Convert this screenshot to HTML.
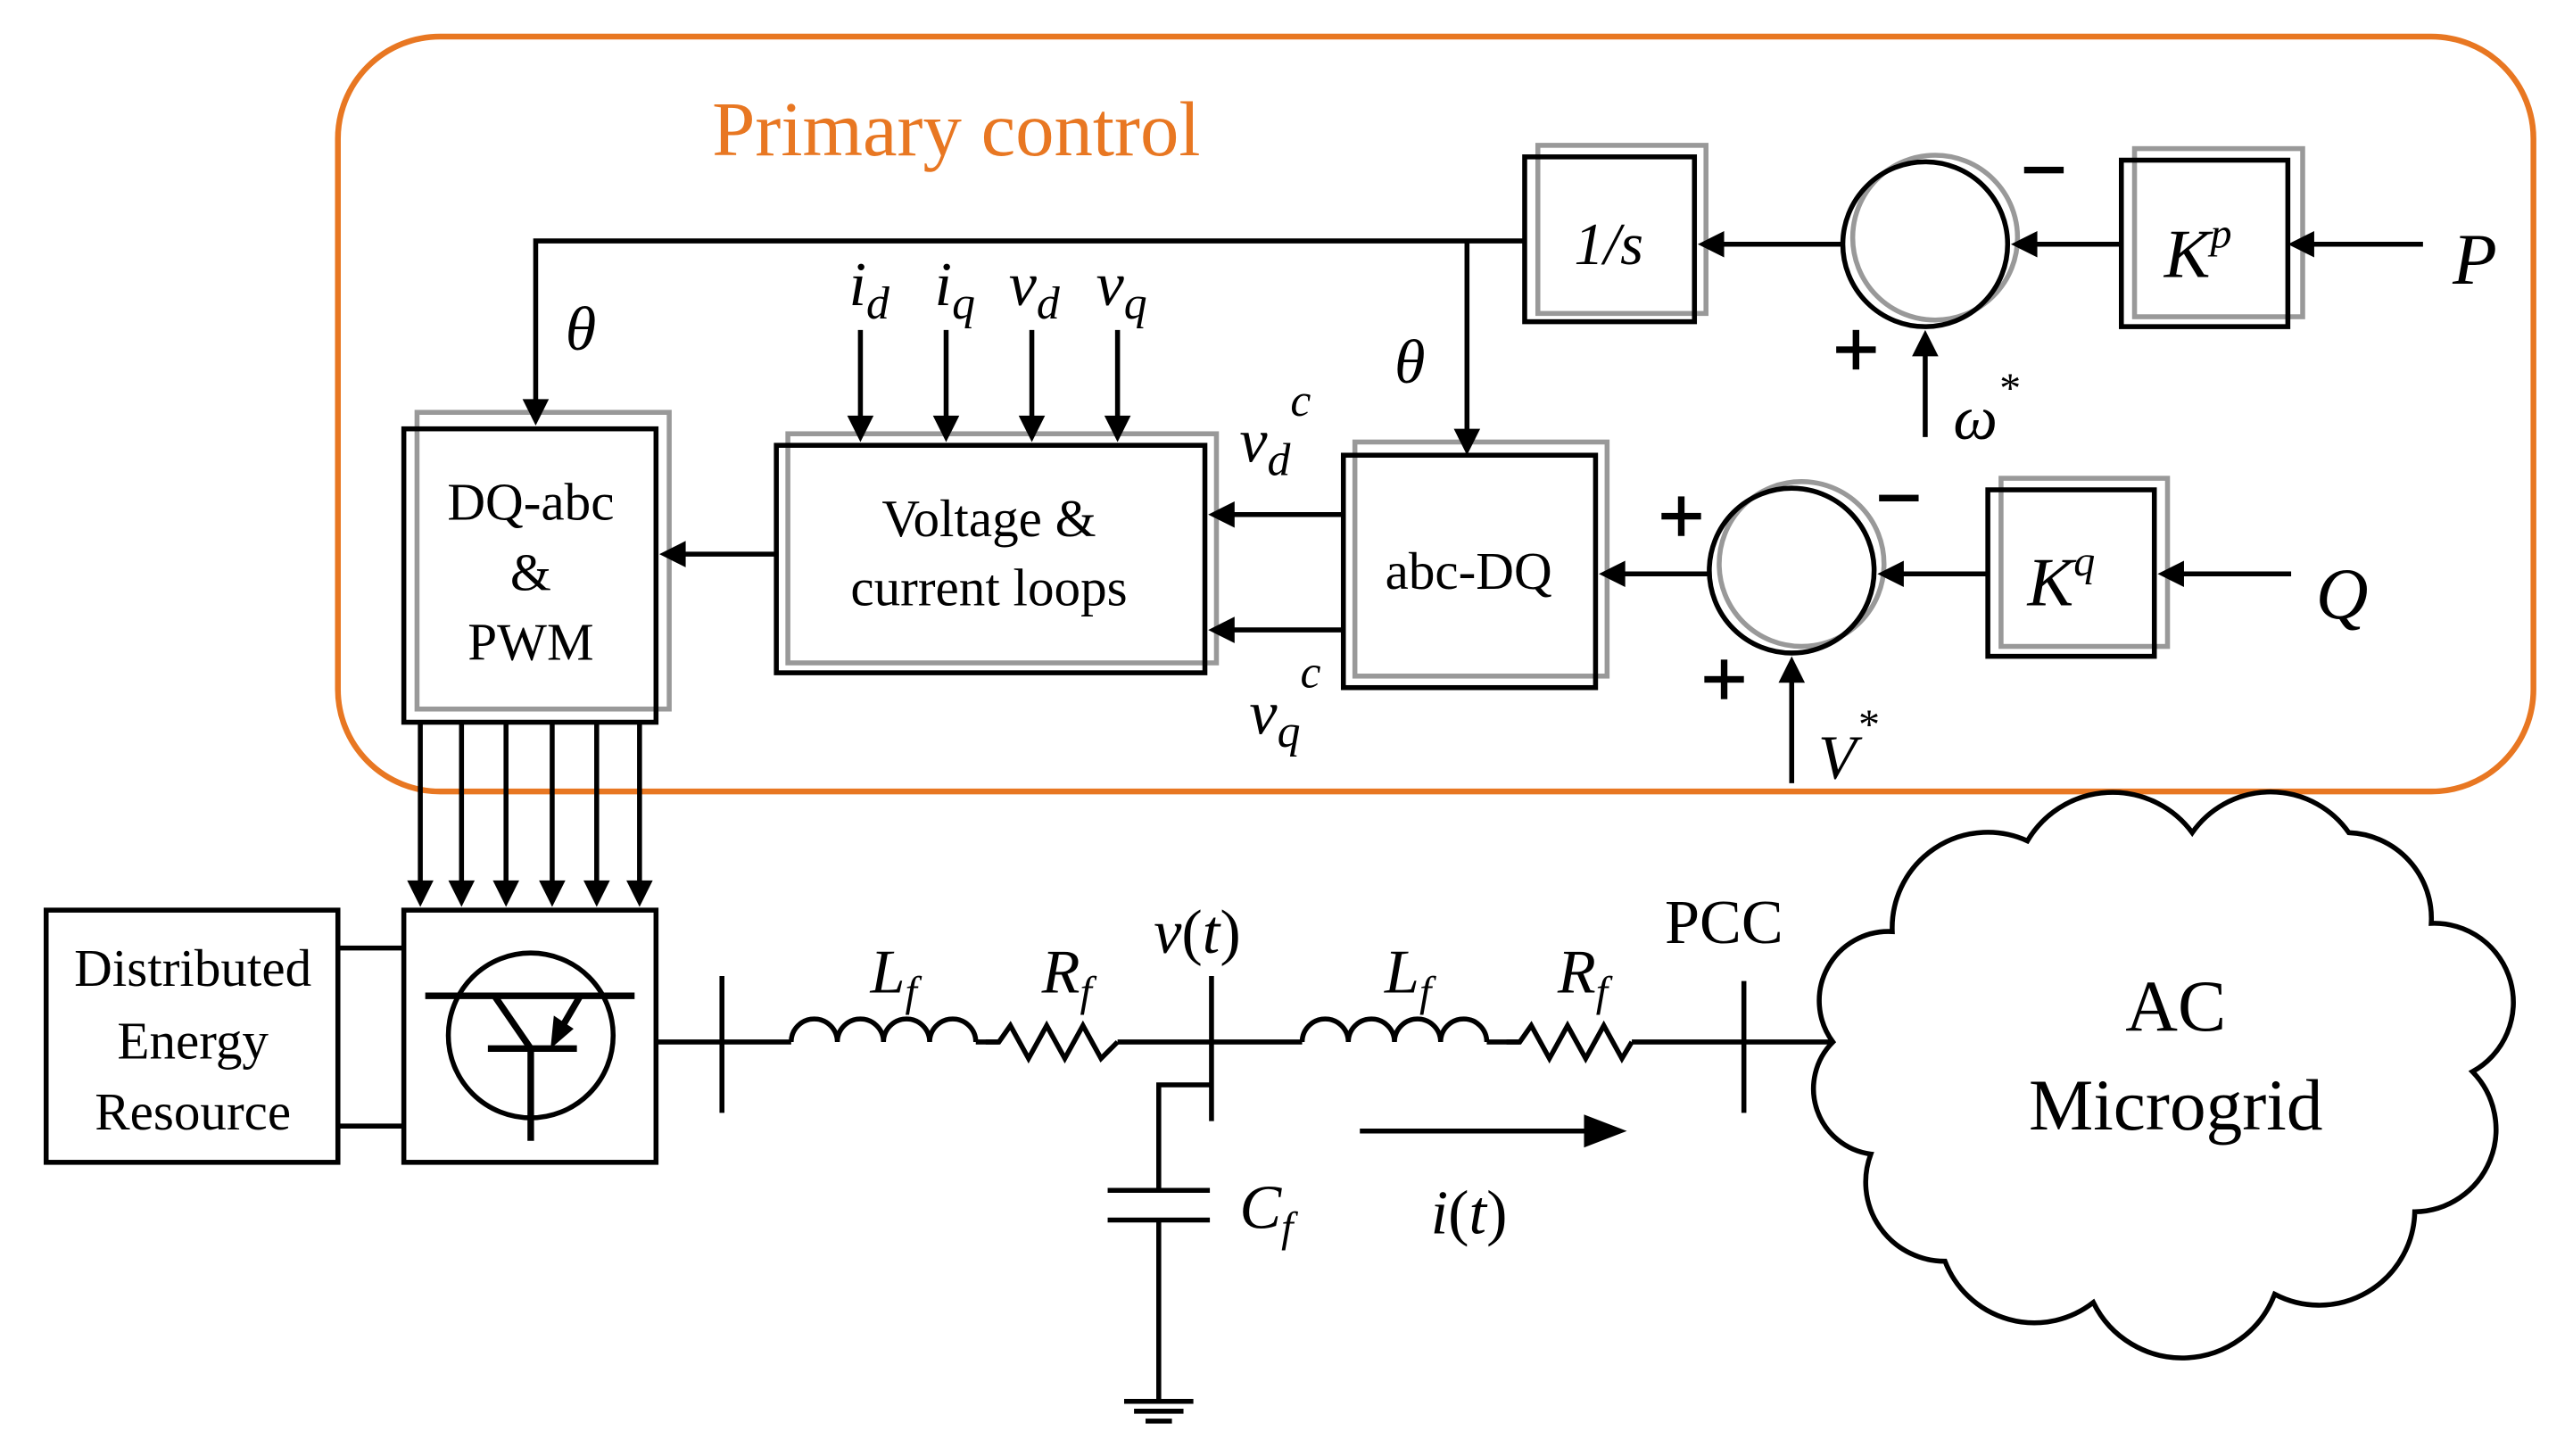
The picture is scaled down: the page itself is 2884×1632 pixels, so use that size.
<!DOCTYPE html>
<html><head><meta charset="utf-8"><style>html,body{margin:0;padding:0;background:#fff}svg{display:block}</style></head>
<body>
<svg width="2884" height="1632" viewBox="0 0 1561 883" xmlns="http://www.w3.org/2000/svg" font-family="Liberation Serif, serif">
<rect x="205" y="22" width="1332" height="458" rx="62" fill="none" stroke="#E87722" stroke-width="3.5"/>
<text x="432" y="94" font-size="47" fill="#E87722">Primary control</text>

<g fill="none" stroke-width="3">
<g stroke="#999">
<rect x="933" y="88" width="102" height="102"/>
<rect x="1295" y="90" width="102" height="102"/>
<rect x="1214" y="290" width="101" height="102"/>
<rect x="253" y="250" width="153" height="180"/>
<rect x="478" y="263" width="260" height="139"/>
<rect x="822" y="268" width="153" height="142"/>
<circle cx="1174" cy="144" r="50"/>
<circle cx="1093" cy="342" r="50"/>
</g>
<g stroke="#000">
<rect x="925" y="95" width="103" height="100"/>
<rect x="1287" y="97" width="101" height="101"/>
<rect x="1206" y="297" width="101" height="101"/>
<rect x="245" y="260" width="153" height="178"/>
<rect x="471" y="270" width="260" height="138"/>
<rect x="815" y="276" width="153" height="141"/>
<circle cx="1168" cy="148" r="50"/>
<circle cx="1087" cy="346" r="50"/>
<path d="M1470 148H1400M1287 148H1232M1118 148H1042M1168 265V212"/>
<path d="M925 146H325V244M890 146V262"/>
<path d="M1390 348H1320M1206 348H1151M1037 348H982M1087 475V410"/>
<path d="M522 200V256M574 200V256M626 200V256M678 200V256"/>
<path d="M471 336H414M815 312H745M815 382H745"/>
<path d="M255 438V535M280 438V535M307 438V535M335 438V535M362 438V535M388 438V535"/>
<rect x="28" y="552" width="177" height="153"/>
<rect x="245" y="552" width="153" height="153"/>
<path d="M205 575H245M205 683H245"/>
<circle cx="322" cy="628" r="50"/>
<path d="M258 604H385M296 636H350M322 636V692M300 604L322 636M352 604L338 628" stroke-width="4"/>
<path d="M398 632H480M592 632H606M678 632H790M902 632H922M990 632H1112"/>
<path d="M438 592V675M735 592V680M1058 595V675"/>
<path d="M480 632a14 14 0 0 1 28 0a14 14 0 0 1 28 0a14 14 0 0 1 28 0a14 14 0 0 1 28 0"/>
<path d="M790 632a14 14 0 0 1 28 0a14 14 0 0 1 28 0a14 14 0 0 1 28 0a14 14 0 0 1 28 0"/>
<path d="M598 632L606 632L613 622L624 642L635 622L646 642L657 622L668 642L678 632"/>
<path d="M914 632L922 632L929 622L940 642L951 622L962 642L973 622L984 642L990 632"/>
<path d="M735 658H703V722M703 740V850M672 722H734M672 740H734"/>
<path d="M682 850H724M688 856H718M695 862H711"/>
<path d="M825 686H965"/>
<path d="M1112 632 A42 42 0 0 1 1148 565 A58 58 0 0 1 1230 510 A60 60 0 0 1 1330 505 A58 58 0 0 1 1425 505 A52 52 0 0 1 1475 560 A48 48 0 0 1 1500 650 A50 50 0 0 1 1465 735 A58 58 0 0 1 1380 785 A60 60 0 0 1 1270 790 A58 58 0 0 1 1180 765 A48 48 0 0 1 1135 700 A40 40 0 0 1 1112 632 Z" fill="#fff"/>
</g>
</g>
<g fill="#000">
<path d="M1388 148l16-8v16z"/>
<path d="M1220 148l16-8v16z"/>
<path d="M1030 148l16-8v16z"/>
<path d="M1168 200l-8 16h16z"/>
<path d="M325 258l-8-16h16z"/>
<path d="M890 276l-8-16h16z"/>
<path d="M1309 348l16-8v16z"/>
<path d="M1139 348l16-8v16z"/>
<path d="M970 348l16-8v16z"/>
<path d="M1087 398l-8 16h16z"/>
<path d="M400 336l16-8v16z"/>
<path d="M733 312l16-8v16z"/>
<path d="M733 382l16-8v16z"/>
<path d="M522 268l-8-16h16z"/><path d="M574 268l-8-16h16z"/><path d="M626 268l-8-16h16z"/><path d="M678 268l-8-16h16z"/>
<path d="M255 550l-8-16h16z"/><path d="M280 550l-8-16h16z"/><path d="M307 550l-8-16h16z"/><path d="M335 550l-8-16h16z"/><path d="M362 550l-8-16h16z"/><path d="M388 550l-8-16h16z"/>
<path d="M334 636l2-20 12 8z"/>
<path d="M987 686l-26-10v20z"/>
<!-- plus/minus signs -->
<rect x="1228" y="101" width="24" height="4"/>
<rect x="1140" y="300" width="24" height="4"/>
<rect x="1114" y="210" width="24" height="4"/><rect x="1124" y="200" width="4" height="24"/>
<rect x="1008" y="311" width="24" height="4"/><rect x="1018" y="301" width="4" height="24"/>
<rect x="1034" y="410" width="24" height="4"/><rect x="1044" y="400" width="4" height="24"/>
</g>
<g fill="#000" font-size="38">
<text x="955" y="160" font-style="italic" font-size="36">1/s</text>
<text x="1313" y="168" font-style="italic" font-size="42">K<tspan dy="-18" font-size="26">p</tspan></text>
<text x="1230" y="367" font-style="italic" font-size="42">K<tspan dy="-18" font-size="26">q</tspan></text>
<text x="1488" y="172" font-style="italic" font-size="44">P</text>
<text x="1405" y="375" font-style="italic" font-size="44">Q</text>
<text x="1185" y="266" font-style="italic">ω<tspan dy="-22" font-size="26">*</tspan></text>
<text x="1103" y="472" font-style="italic">V<tspan dy="-24" font-size="26">*</tspan></text>
<text x="343" y="212" font-style="italic">θ</text>
<text x="846" y="232" font-style="italic">θ</text>
<text x="515" y="185" font-style="italic">i<tspan dy="8" font-size="28">d</tspan></text>
<text x="567" y="185" font-style="italic">i<tspan dy="8" font-size="28">q</tspan></text>
<text x="612" y="185" font-style="italic">v<tspan dy="8" font-size="28">d</tspan></text>
<text x="665" y="185" font-style="italic">v<tspan dy="8" font-size="28">q</tspan></text>
<text x="752" y="280" font-style="italic">v<tspan dy="8" font-size="28">d</tspan><tspan dy="-36" font-size="28">c</tspan></text>
<text x="758" y="445" font-style="italic">v<tspan dy="8" font-size="28">q</tspan><tspan dy="-36" font-size="28">c</tspan></text>
<g font-size="32" text-anchor="middle">
<text x="322" y="315">DQ-abc</text>
<text x="322" y="358">&amp;</text>
<text x="322" y="400">PWM</text>
<text x="600" y="325">Voltage &amp;</text>
<text x="600" y="367">current loops</text>
<text x="891" y="357">abc-DQ</text>
<text x="117" y="598">Distributed</text>
<text x="117" y="642">Energy</text>
<text x="117" y="685">Resource</text>
</g>
<text x="528" y="602" font-style="italic">L<tspan dy="8" font-size="26">f</tspan></text>
<text x="632" y="602" font-style="italic">R<tspan dy="8" font-size="26">f</tspan></text>
<text x="840" y="602" font-style="italic">L<tspan dy="8" font-size="26">f</tspan></text>
<text x="945" y="602" font-style="italic">R<tspan dy="8" font-size="26">f</tspan></text>
<text x="700" y="578" font-style="italic">v<tspan font-style="normal">(</tspan>t<tspan font-style="normal">)</tspan></text>
<text x="868" y="748" font-style="italic">i<tspan font-style="normal">(</tspan>t<tspan font-style="normal">)</tspan></text>
<text x="752" y="745" font-style="italic">C<tspan dy="8" font-size="26">f</tspan></text>
<text x="1010" y="572">PCC</text>
<text x="1320" y="625" font-size="44" text-anchor="middle">AC</text>
<text x="1320" y="685" font-size="44" text-anchor="middle">Microgrid</text>
</g>
</svg>
</body></html>
